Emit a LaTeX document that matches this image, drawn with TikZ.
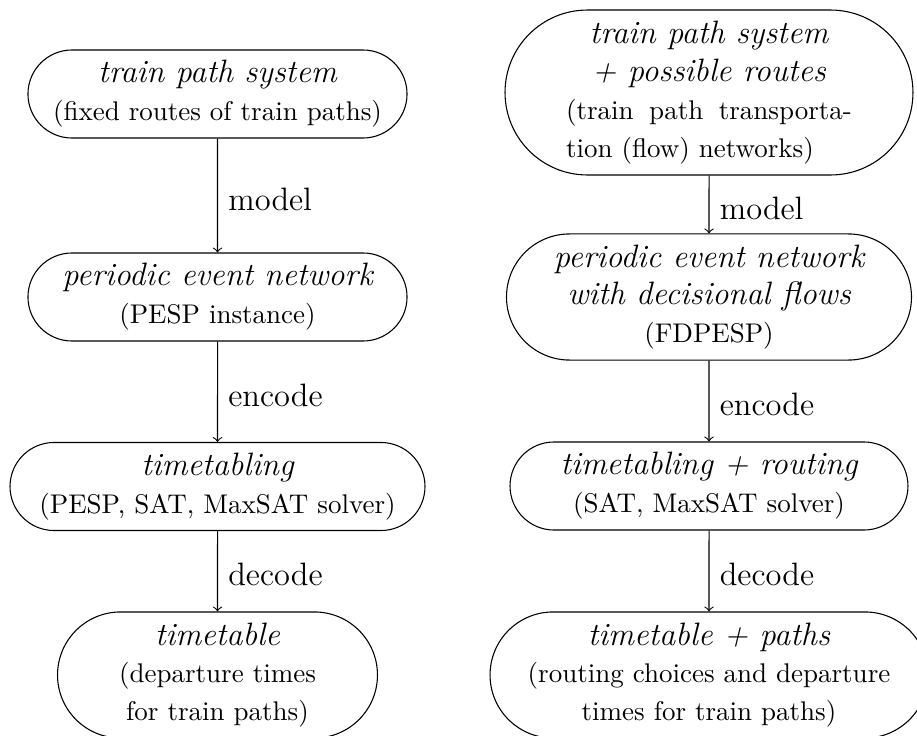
\documentclass[tikz,border=0pt]{standalone}
\usetikzlibrary{shapes.misc}
\newcommand{\headtxt}[1]{{\fontsize{12}{14}\selectfont\itshape #1}}
\begin{document}
\begin{tikzpicture}[x=0.37037pt,y=-0.37037pt,
  box/.style={rounded rectangle, draw, line width=0.4pt, inner sep=0pt, align=center,
    font=\fontsize{10}{14}\selectfont},
  lbl/.style={anchor=west, inner sep=0pt, xshift=3.8pt, yshift=-1.3pt, font=\large},
  conn/.style={->, line width=0.4pt}]
\useasboundingbox (0,0) rectangle (917,736);
% left column
\node[box, minimum width=140.4pt, minimum height=32.6pt] (L1) at (217.5,94)
  {\headtxt{train path system}\\(fixed routes of train paths)};
\node[box, minimum width=140.4pt, minimum height=32.6pt] (L2) at (217.5,297)
  {\headtxt{periodic event network}\\(PESP instance)};
\node[box, minimum width=153.7pt, minimum height=32.6pt] (L3) at (217.5,486.5)
  {\headtxt{timetabling}\\(PESP, SAT, MaxSAT solver)};
\node[box, minimum width=118.5pt, minimum height=46.7pt] (L4) at (217.5,675)
  {\headtxt{timetable}\\(departure times\\for train paths)};
% right column
\node[box, minimum width=151.1pt, minimum height=61.1pt] (R1) at (709,92.5)
  {\headtxt{train path system}\\\headtxt{+ possible routes}\\
   \makebox[105.9pt][s]{(train path transporta-}\\
   \makebox[105.9pt][l]{tion (flow) networks)}};
\node[box, minimum width=150pt, minimum height=46.7pt] (R2) at (709,297)
  {\headtxt{periodic event network}\\\headtxt{with decisional flows}\\(FDPESP)};
\node[box, minimum width=147.4pt, minimum height=32.6pt] (R3) at (709,486)
  {\headtxt{timetabling + routing}\\(SAT, MaxSAT solver)};
\node[box, minimum width=162.2pt, minimum height=46.7pt] (R4) at (709,675)
  {\headtxt{timetable + paths}\\(routing choices and departure\\times for train paths)};
% connectors
\draw[conn] (L1) -- node[lbl]{model} (L2);
\draw[conn] (L2) -- node[lbl]{encode} (L3);
\draw[conn] (L3) -- node[lbl]{decode} (L4);
\draw[conn] (R1) -- node[lbl]{model} (R2);
\draw[conn] (R2) -- node[lbl]{encode} (R3);
\draw[conn] (R3) -- node[lbl]{decode} (R4);
\end{tikzpicture}
\end{document}
